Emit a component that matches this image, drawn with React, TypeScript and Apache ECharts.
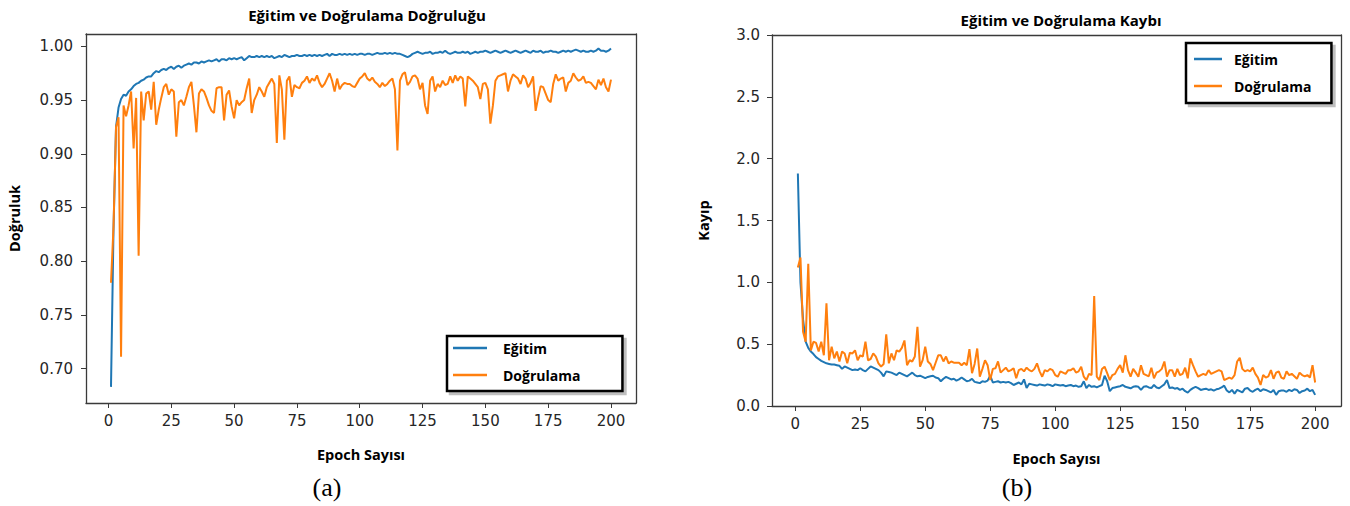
import React, { useEffect, useRef } from "react";
import * as echarts from "echarts";

const xTicks = [0, 25, 50, 75, 100, 125, 150, 175, 200];
const accTicks = [0.7, 0.75, 0.8, 0.85, 0.9, 0.95, 1.0];
const seriesNames = ["Eğitim", "Doğrulama"];

// Training accuracy, epochs 1..200
const trainAcc = [
  0.683, 0.830, 0.925, 0.943, 0.951, 0.955, 0.954, 0.958, 0.960, 0.963,
  0.965, 0.966, 0.968, 0.969, 0.971, 0.972, 0.972, 0.975, 0.977, 0.976,
  0.978, 0.979, 0.978, 0.980, 0.981, 0.979, 0.981, 0.982, 0.980, 0.982,
  0.983, 0.984, 0.983, 0.985, 0.985, 0.984, 0.986, 0.985, 0.986, 0.987,
  0.986, 0.987, 0.988, 0.986, 0.988, 0.988, 0.987, 0.989, 0.988, 0.989,
  0.988, 0.989, 0.990, 0.987, 0.989, 0.991, 0.990, 0.990, 0.991, 0.990,
  0.991, 0.990, 0.991, 0.990, 0.991, 0.989, 0.990, 0.991, 0.990, 0.992,
  0.991, 0.990, 0.991, 0.991, 0.992, 0.991, 0.991, 0.992, 0.991, 0.992,
  0.991, 0.992, 0.991, 0.992, 0.991, 0.992, 0.993, 0.991, 0.993, 0.992,
  0.992, 0.993, 0.992, 0.993, 0.992, 0.993, 0.992, 0.993, 0.992, 0.993,
  0.993, 0.992, 0.993, 0.993, 0.992, 0.993, 0.994, 0.993, 0.993, 0.994,
  0.993, 0.994, 0.993, 0.994, 0.993, 0.993, 0.992, 0.991, 0.990, 0.991,
  0.993, 0.994, 0.995, 0.994, 0.993, 0.994, 0.994, 0.995, 0.993, 0.994,
  0.994, 0.995, 0.994, 0.996, 0.994, 0.993, 0.994, 0.995, 0.994, 0.994,
  0.995, 0.994, 0.995, 0.993, 0.994, 0.995, 0.994, 0.995, 0.995, 0.996,
  0.995, 0.994, 0.995, 0.996, 0.995, 0.994, 0.995, 0.996, 0.995, 0.994,
  0.995, 0.996, 0.995, 0.994, 0.995, 0.996, 0.995, 0.994, 0.996, 0.995,
  0.995, 0.996, 0.994, 0.995, 0.995, 0.996, 0.995, 0.995, 0.994, 0.995,
  0.996, 0.995, 0.996, 0.995, 0.996, 0.997, 0.996, 0.995, 0.996, 0.995,
  0.995, 0.996, 0.995, 0.996, 0.998, 0.996, 0.996, 0.995, 0.996, 0.998,
];

// Validation accuracy, epochs 1..200
const valAcc = [
  0.780, 0.832, 0.925, 0.934, 0.711, 0.945, 0.935, 0.945, 0.958, 0.905,
  0.952, 0.805, 0.958, 0.931, 0.956, 0.958, 0.941, 0.967, 0.927, 0.941,
  0.952, 0.962, 0.965, 0.955, 0.960, 0.958, 0.916, 0.948, 0.950, 0.945,
  0.953, 0.962, 0.967, 0.945, 0.920, 0.956, 0.960, 0.958, 0.952, 0.945,
  0.940, 0.938, 0.961, 0.962, 0.962, 0.931, 0.955, 0.959, 0.944, 0.933,
  0.950, 0.945, 0.948, 0.950, 0.961, 0.970, 0.938, 0.950, 0.955, 0.962,
  0.958, 0.953, 0.962, 0.966, 0.970, 0.965, 0.910, 0.973, 0.960, 0.913,
  0.968, 0.972, 0.953, 0.964, 0.962, 0.961, 0.966, 0.968, 0.972, 0.966,
  0.970, 0.968, 0.973, 0.966, 0.962, 0.965, 0.970, 0.975, 0.968, 0.958,
  0.970, 0.960, 0.964, 0.966, 0.965, 0.965, 0.963, 0.962, 0.966, 0.970,
  0.972, 0.975, 0.970, 0.968, 0.971, 0.967, 0.965, 0.962, 0.966, 0.963,
  0.965, 0.968, 0.970, 0.960, 0.903, 0.968, 0.974, 0.976, 0.964, 0.967,
  0.972, 0.973, 0.970, 0.960, 0.966, 0.945, 0.937, 0.968, 0.972, 0.958,
  0.965, 0.962, 0.968, 0.964, 0.965, 0.972, 0.966, 0.973, 0.968, 0.972,
  0.970, 0.944, 0.972, 0.970, 0.968, 0.965, 0.962, 0.951, 0.965, 0.966,
  0.960, 0.928, 0.945, 0.968, 0.972, 0.973, 0.974, 0.975, 0.958, 0.968,
  0.974, 0.972, 0.970, 0.965, 0.973, 0.970, 0.962, 0.966, 0.972, 0.940,
  0.952, 0.963, 0.962, 0.956, 0.950, 0.948, 0.965, 0.974, 0.968, 0.970,
  0.971, 0.958, 0.966, 0.968, 0.975, 0.971, 0.968, 0.969, 0.972, 0.966,
  0.967, 0.966, 0.963, 0.960, 0.969, 0.964, 0.970, 0.962, 0.958, 0.969,
];

// Training loss, epochs 1..200
const trainLoss = [
  1.88, 1.00, 0.70, 0.52, 0.47, 0.44, 0.42, 0.395, 0.38, 0.365,
  0.355, 0.345, 0.34, 0.335, 0.335, 0.33, 0.325, 0.30, 0.32, 0.31,
  0.30, 0.29, 0.295, 0.29, 0.305, 0.29, 0.28, 0.30, 0.32, 0.31,
  0.30, 0.29, 0.27, 0.24, 0.28, 0.275, 0.27, 0.26, 0.25, 0.27,
  0.26, 0.25, 0.24, 0.255, 0.27, 0.25, 0.24, 0.245, 0.235, 0.225,
  0.235, 0.24, 0.245, 0.23, 0.225, 0.20, 0.22, 0.235, 0.225, 0.215,
  0.22, 0.205, 0.215, 0.23, 0.215, 0.20, 0.205, 0.22, 0.195, 0.19,
  0.185, 0.20, 0.195, 0.205, 0.245, 0.19, 0.195, 0.20, 0.19, 0.195,
  0.19, 0.195, 0.185, 0.17, 0.18, 0.19, 0.175, 0.215, 0.145, 0.18,
  0.175, 0.17, 0.165, 0.175, 0.17, 0.165, 0.175, 0.17, 0.16, 0.175,
  0.17, 0.165, 0.17, 0.16, 0.165, 0.17, 0.16, 0.165, 0.155, 0.16,
  0.20, 0.145, 0.17, 0.155, 0.16, 0.15, 0.16, 0.17, 0.245, 0.20,
  0.12, 0.145, 0.15, 0.155, 0.16, 0.17, 0.155, 0.15, 0.143, 0.155,
  0.16, 0.155, 0.13, 0.155, 0.16, 0.15, 0.145, 0.17, 0.15, 0.143,
  0.16, 0.175, 0.21, 0.145, 0.15, 0.14, 0.145, 0.13, 0.14, 0.12,
  0.108, 0.13, 0.145, 0.155, 0.145, 0.13, 0.135, 0.14, 0.13, 0.135,
  0.125, 0.135, 0.14, 0.15, 0.165, 0.125, 0.11, 0.13, 0.10, 0.13,
  0.12, 0.11, 0.14, 0.145, 0.125, 0.115, 0.13, 0.14, 0.12, 0.135,
  0.13, 0.12, 0.11, 0.13, 0.09, 0.12, 0.125, 0.125, 0.115, 0.13,
  0.12, 0.135, 0.13, 0.105, 0.12, 0.125, 0.14, 0.12, 0.13, 0.09,
];

// Validation loss, epochs 1..200
const valLoss = [
  1.12, 1.20, 0.60, 0.52, 1.15, 0.45, 0.52, 0.51, 0.44, 0.52,
  0.41, 0.83, 0.37, 0.48, 0.385, 0.44, 0.36, 0.44, 0.425, 0.345,
  0.43, 0.425, 0.45, 0.37, 0.41, 0.40, 0.52, 0.37, 0.38, 0.425,
  0.40, 0.345, 0.318, 0.34, 0.58, 0.345, 0.425, 0.37, 0.45, 0.44,
  0.47, 0.53, 0.33, 0.37, 0.36, 0.40, 0.64, 0.318, 0.37, 0.48,
  0.36, 0.34, 0.29, 0.35, 0.41, 0.41, 0.36, 0.40, 0.345, 0.36,
  0.35, 0.35, 0.35, 0.33, 0.35, 0.33, 0.46, 0.265, 0.34, 0.465,
  0.237, 0.30, 0.37, 0.33, 0.21, 0.30, 0.305, 0.36, 0.27, 0.29,
  0.31, 0.28, 0.29, 0.305, 0.224, 0.29, 0.30, 0.28, 0.31, 0.29,
  0.28, 0.30, 0.345, 0.28, 0.237, 0.29, 0.28, 0.30, 0.29, 0.25,
  0.237, 0.28, 0.27, 0.26, 0.29, 0.29, 0.305, 0.27, 0.28, 0.318,
  0.237, 0.21, 0.26, 0.25, 0.89, 0.237, 0.21, 0.30, 0.318, 0.265,
  0.21, 0.25, 0.26, 0.30, 0.33, 0.27, 0.41, 0.29, 0.237, 0.30,
  0.27, 0.237, 0.33, 0.26, 0.25, 0.24, 0.31, 0.224, 0.27, 0.28,
  0.30, 0.36, 0.237, 0.29, 0.29, 0.237, 0.30, 0.25, 0.26, 0.31,
  0.224, 0.385, 0.33, 0.28, 0.237, 0.25, 0.26, 0.25, 0.29, 0.26,
  0.27, 0.28, 0.29, 0.28, 0.21, 0.22, 0.23, 0.22, 0.25, 0.36,
  0.39, 0.30, 0.28, 0.29, 0.28, 0.31, 0.26, 0.23, 0.17, 0.25,
  0.23, 0.24, 0.29, 0.22, 0.27, 0.28, 0.23, 0.22, 0.28, 0.25,
  0.26, 0.24, 0.22, 0.27, 0.25, 0.24, 0.25, 0.23, 0.33, 0.19,
];

const BLUE = "#1f77b4";
const ORANGE = "#ff7f0e";
const FRAME = "#3a3a3a";

const toPairs = (arr: number[]) => arr.map((v, i) => [i + 1, v]);

export default function App() {
  const ref = useRef<HTMLDivElement>(null);

  useEffect(() => {
    if (!ref.current) return;
    const chart = echarts.init(ref.current, null, { renderer: "svg" });

    const tickLabel = { fontFamily: "DejaVu Sans", fontSize: 15, color: "#262626" };
    const boldText = { fontFamily: "Open Sans", fontWeight: "bold" as const, fontSize: 14, color: "#000" };
    const titleText = { ...boldText, fontSize: 15 };
    const nameText = { ...boldText, fontSize: 14.5 };
    const tickStyle = { show: true, length: 5, lineStyle: { color: FRAME, width: 1 } };
    const frameLine = { show: true, onZero: false, lineStyle: { color: FRAME, width: 1.3 } };

    const xAxisFor = (i: number, gap: number) => ({
      type: "value" as const,
      gridIndex: i,
      position: "bottom" as const,
      min: -8.95,
      max: 209.95,
      name: "Epoch Sayısı",
      nameLocation: "middle" as const,
      nameGap: gap,
      nameTextStyle: nameText,
      axisLine: frameLine,
      splitLine: { show: false },
      axisTick: { ...tickStyle, customValues: xTicks },
      axisLabel: { ...tickLabel, margin: 10, customValues: xTicks },
    });

    const topFrame = (i: number) => ({
      type: "value" as const,
      gridIndex: i,
      position: "top" as const,
      min: -8.95,
      max: 209.95,
      axisLine: frameLine,
      axisTick: { show: false },
      axisLabel: { show: false },
      splitLine: { show: false },
    });

    const rightFrame = (i: number, min: number, max: number) => ({
      type: "value" as const,
      gridIndex: i,
      position: "right" as const,
      min,
      max,
      axisLine: frameLine,
      axisTick: { show: false },
      axisLabel: { show: false },
      splitLine: { show: false },
    });

    const legendCommon = {
      data: seriesNames,
      orient: "vertical" as const,
      icon: "rect",
      itemHeight: 2.5,
      itemGap: 13,
      borderColor: "#000",
      borderWidth: 2.5,
      backgroundColor: "#fff",
      shadowColor: "rgba(0,0,0,0.25)",
      shadowOffsetX: 3,
      shadowOffsetY: 3,
      shadowBlur: 1,
      selectedMode: false,
    };

    chart.setOption({
      animation: false,
      backgroundColor: "#fff",
      title: [
        {
          text: "Eğitim ve Doğrulama Doğruluğu",
          left: 362,
          top: 2,
          textAlign: "center",
          textStyle: titleText,
        },
        {
          text: "Eğitim ve Doğrulama Kaybı",
          left: 1056,
          top: 7,
          textAlign: "center",
          textStyle: titleText,
        },
      ],
      grid: [
        { left: 86, top: 34, width: 550, height: 369 },
        { left: 772, top: 35, width: 569, height: 371 },
      ],
      xAxis: [xAxisFor(0, 44), xAxisFor(1, 45), topFrame(0), topFrame(1)],
      yAxis: [
        {
          type: "value",
          gridIndex: 0,
          position: "left",
          min: 0.668,
          max: 1.0115,
          name: "Doğruluk",
          nameLocation: "middle",
          nameRotate: 90,
          nameGap: 64,
          nameTextStyle: nameText,
          axisLine: frameLine,
          splitLine: { show: false },
          axisTick: { ...tickStyle, customValues: accTicks },
          axisLabel: {
            ...tickLabel,
            margin: 13,
            customValues: accTicks,
            formatter: (v: number) => v.toFixed(2),
          },
        },
        {
          type: "value",
          gridIndex: 1,
          position: "left",
          min: 0,
          max: 3,
          interval: 0.5,
          name: "Kayıp",
          nameLocation: "middle",
          nameRotate: 90,
          nameGap: 61,
          nameTextStyle: nameText,
          axisLine: frameLine,
          splitLine: { show: false },
          axisTick: tickStyle,
          axisLabel: {
            ...tickLabel,
            margin: 12,
            formatter: (v: number) => v.toFixed(1),
          },
        },
        rightFrame(0, 0.668, 1.0115),
        rightFrame(1, 0, 3),
      ],
      legend: [
        {
          ...legendCommon,
          left: 447,
          top: 336,
          itemWidth: 34,
          padding: [5, 42, 9, 6],
          textStyle: { ...boldText, padding: [0, 0, 0, 11] },
        },
        {
          ...legendCommon,
          left: 1186,
          top: 43,
          itemWidth: 28,
          padding: [9, 20, 10, 8],
          textStyle: { ...boldText, padding: [0, 0, 0, 7] },
        },
      ],
      series: [
        {
          name: seriesNames[0], type: "line", xAxisIndex: 0, yAxisIndex: 0,
          data: toPairs(trainAcc), symbol: "none", showSymbol: false,
          lineStyle: { width: 2, color: BLUE }, itemStyle: { color: BLUE },
        },
        {
          name: seriesNames[1], type: "line", xAxisIndex: 0, yAxisIndex: 0,
          data: toPairs(valAcc), symbol: "none", showSymbol: false,
          lineStyle: { width: 2, color: ORANGE }, itemStyle: { color: ORANGE },
        },
        {
          name: seriesNames[0], type: "line", xAxisIndex: 1, yAxisIndex: 1,
          data: toPairs(trainLoss), symbol: "none", showSymbol: false,
          lineStyle: { width: 2, color: BLUE }, itemStyle: { color: BLUE },
        },
        {
          name: seriesNames[1], type: "line", xAxisIndex: 1, yAxisIndex: 1,
          data: toPairs(valLoss), symbol: "none", showSymbol: false,
          lineStyle: { width: 2, color: ORANGE }, itemStyle: { color: ORANGE },
        },
      ],
      graphic: [
        {
          type: "text", x: 327, y: 487,
          style: { text: "(a)", font: "26px 'Liberation Serif'", fill: "#000", align: "center", verticalAlign: "middle" },
        },
        {
          type: "text", x: 1017, y: 487,
          style: { text: "(b)", font: "26px 'Liberation Serif'", fill: "#000", align: "center", verticalAlign: "middle" },
        },
      ],
    });

    return () => chart.dispose();
  }, []);

  return (
    <div
      ref={ref}
      style={{ position: "absolute", left: 0, top: 0, width: 1350, height: 506, background: "#fff" }}
    />
  );
}
